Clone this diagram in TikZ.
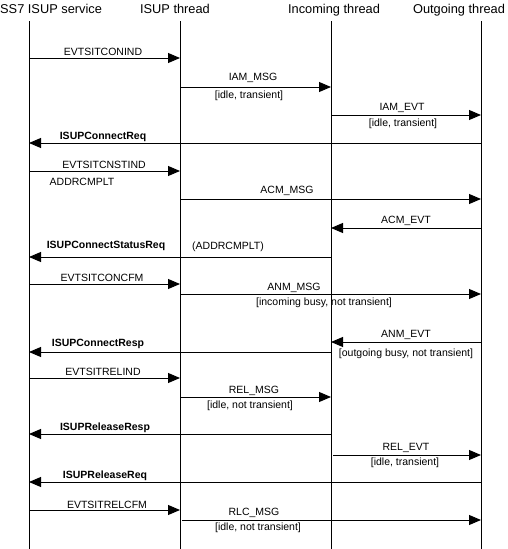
\documentclass[tikz,border=0pt]{standalone}
\usepackage{fontspec}
\setmainfont{Liberation Sans}
\usetikzlibrary{arrows.meta}
\tikzset{
  lifeline/.style={line width=0.9pt},
  msgline/.style={line width=0.9pt, -{Triangle[length=12pt,width=10pt]}},
  lbl/.style={anchor=base, inner sep=0pt, font=\fontsize{10.5}{12}\selectfont},
  blbl/.style={anchor=base, inner sep=0pt, font=\fontsize{10.5}{12}\selectfont\bfseries},
  hdr/.style={anchor=base, inner sep=0pt, font=\fontsize{12.8}{14}\selectfont},
}
\begin{document}
\begin{tikzpicture}[x=1pt,y=-1pt]
\useasboundingbox (0,0) rectangle (508,549);
% headers
\node[hdr, anchor=base west] (hA) at (0,13) {SS7 ISUP service};
\node[hdr] (hB) at (175,13) {ISUP thread};
\node[hdr] (hC) at (334,13) {Incoming thread};
\node[hdr] (hD) at (459,13) {Outgoing thread};
% lifelines
\coordinate (tA) at (29,21);  \coordinate (bA) at (29,549);
\coordinate (tB) at (180,21); \coordinate (bB) at (180,549);
\coordinate (tC) at (331,21); \coordinate (bC) at (331,549);
\coordinate (tD) at (481,21); \coordinate (bD) at (481,549);
\draw[lifeline] (tA) -- (bA);
\draw[lifeline] (tB) -- (bB);
\draw[lifeline] (tC) -- (bC);
\draw[lifeline] (tD) -- (bD);
% 1
\draw[msgline] (tA |- 0,58) -- (tB |- 0,58);
\node[lbl] (m1) at (103,55) {EVTSITCONIND};
% 2
\draw[msgline] (tB |- 0,87) -- (tC |- 0,87);
\node[lbl] (m2) at (253,80) {IAM\_MSG};
\node[lbl] (m2b) at (249,98) {[idle, transient]};
% 3
\draw[msgline] (tC |- 0,115) -- (tD |- 0,115);
\node[lbl] (m3) at (402,110) {IAM\_EVT};
\node[lbl] (m3b) at (403,126) {[idle, transient]};
% 4
\draw[msgline] (tD |- 0,143) -- (tA |- 0,143);
\node[blbl] (m4) at (103,139) {ISUPConnectReq};
% 5
\draw[msgline] (tA |- 0,171) -- (tB |- 0,171);
\node[lbl] (m5) at (104,168) {EVTSITCNSTIND};
\node[lbl] (m5b) at (82,185) {ADDRCMPLT};
% 6
\draw[msgline] (tB |- 0,199) -- (tD |- 0,199);
\node[lbl] (m6) at (287,193) {ACM\_MSG};
% 7
\draw[msgline] (tD |- 0,228) -- (tC |- 0,228);
\node[lbl] (m7) at (406,223) {ACM\_EVT};
% 8
\draw[msgline] (tC |- 0,257) -- (tA |- 0,257);
\node[blbl] (m8) at (106,248) {ISUPConnectStatusReq};
\node[lbl] (m8b) at (228,249) {(ADDRCMPLT)};
% 9
\draw[msgline] (tA |- 0,284) -- (tB |- 0,284);
\node[lbl] (m9) at (102,281) {EVTSITCONCFM};
% 10
\draw[msgline] (tB |- 0,294) -- (tD |- 0,294);
\node[lbl] (m10) at (294,290) {ANM\_MSG};
\node[lbl] (m10b) at (324,305) {[incoming busy, not transient]};
% 11
\draw[msgline] (tD |- 0,342) -- (tC |- 0,342);
\node[lbl] (m11) at (406,337) {ANM\_EVT};
\node[lbl] (m11b) at (406,356) {[outgoing busy, not transient]};
% 12
\draw[msgline] (tC |- 0,352) -- (tA |- 0,352);
\node[blbl] (m12) at (98,346) {ISUPConnectResp};
% 13
\draw[msgline] (tA |- 0,378) -- (tB |- 0,378);
\node[lbl] (m13) at (103,375) {EVTSITRELIND};
% 14
\draw[msgline] (tB |- 0,397) -- (tC |- 0,397);
\node[lbl] (m14) at (254,393) {REL\_MSG};
\node[lbl] (m14b) at (250,408) {[idle, not transient]};
% 15
\draw[msgline] (tC |- 0,434) -- (tA |- 0,434);
\node[blbl] (m15) at (105,430) {ISUPReleaseResp};
% 16
\draw[msgline] ([xshift=2pt]tC |- 0,455) -- (tD |- 0,455);
\node[lbl] (m16) at (406,450) {REL\_EVT};
\node[lbl] (m16b) at (405,465) {[idle, transient]};
% 17
\draw[msgline] (tD |- 0,482) -- (tA |- 0,482);
\node[blbl] (m17) at (105,478) {ISUPReleaseReq};
% 18
\draw[msgline] (tA |- 0,510) -- (tB |- 0,510);
\node[lbl] (m18) at (107,508) {EVTSITRELCFM};
% 19
\draw[msgline] ([xshift=2pt]tB |- 0,520) -- (tD |- 0,520);
\node[lbl] (m19) at (254,515) {RLC\_MSG};
\node[lbl] (m19b) at (258,530) {[idle, not transient]};
\end{tikzpicture}
\end{document}
